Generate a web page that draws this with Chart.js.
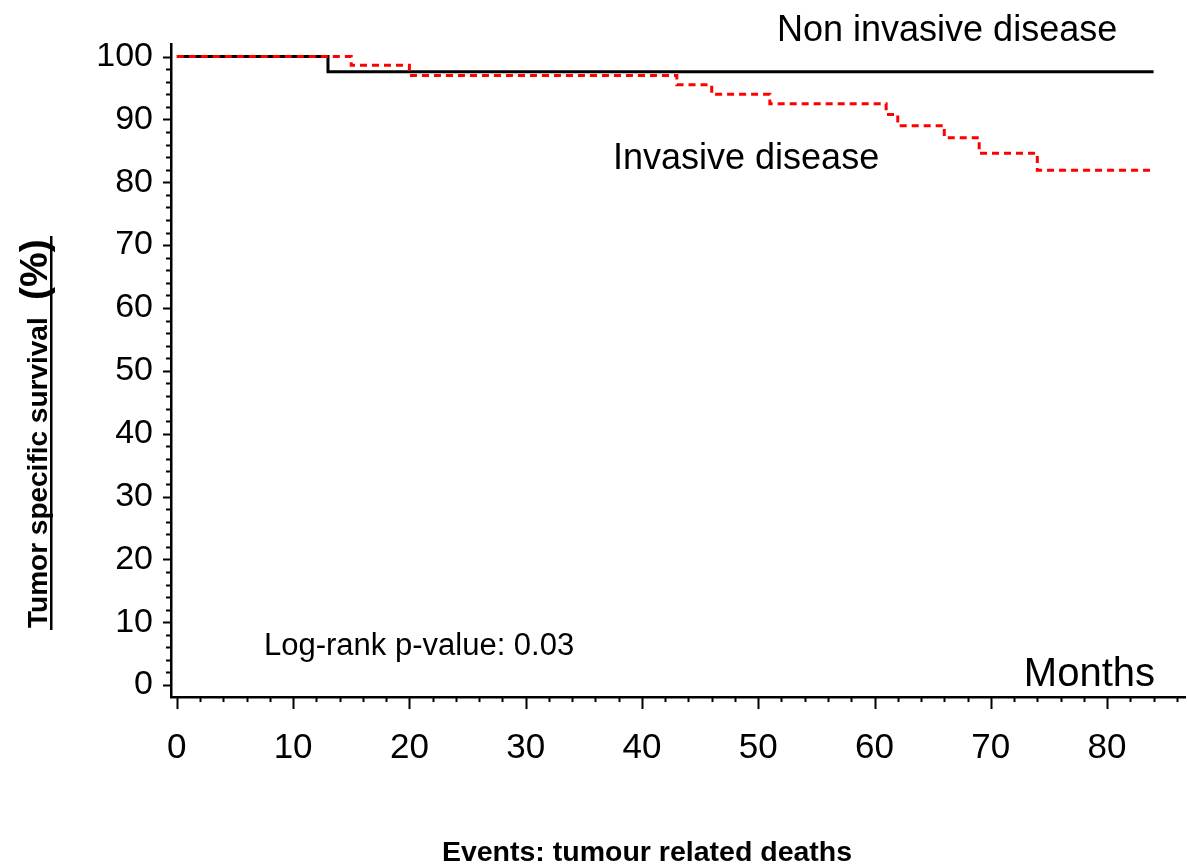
<!DOCTYPE html>
<html lang="en">
<head>
    <meta charset="UTF-8">
    <title>Tumor specific survival</title>
    <script src="https://cdn.jsdelivr.net/npm/chart.js@4.4.1/dist/chart.umd.min.js"></script>
    <style>
        html, body { margin: 0; padding: 0; background: #fff; }
        canvas { display: block; }
    </style>
</head>
<body>
<canvas id="chart" width="1187" height="868"></canvas>
<script>
    // Kaplan-Meier steps
    const monthsInvasive = [0, 15, 20, 43, 46, 51, 61, 62, 66, 69, 74, 84]
    const survivalInvasive = [100, 98.6, 97.0, 95.5, 94.0, 92.5, 90.8, 89.0, 87.1, 84.6, 81.9, 81.9]
    const monthsNonInvasive = [0, 13, 84]
    const survivalNonInvasive = [100, 97.6, 97.6]

    const yTickValues = [0, 10, 20, 30, 40, 50, 60, 70, 80, 90, 100]
    const xTickValues = [0, 10, 20, 30, 40, 50, 60, 70, 80]

    const labelNonInvasive = 'Non invasive disease'
    const labelInvasive = 'Invasive disease'
    const pValueText = 'Log-rank p-value: 0.03'
    const xTitle = 'Months'
    const yTitle = 'Tumor specific survival'
    const yUnit = '(%)'
    const footerText = 'Events: tumour related deaths'

    const FONT = '"Liberation Sans", Arial, Helvetica, sans-serif'

    function points(xs, ys) {
        return xs.map((x, i) => ({x: x, y: ys[i]}))
    }

    // minor + major tick marks, drawn outward from the axes
    const tickMarks = {
        id: 'tickMarks',
        afterDraw(chart) {
            const ctx = chart.ctx
            const xs = chart.scales.x
            const ys = chart.scales.y
            const area = chart.chartArea
            ctx.save()
            ctx.strokeStyle = '#000'
            ctx.lineWidth = 2
            ctx.beginPath()
            for (let v = 0; v <= 100; v += 2) {
                const y = Math.round(ys.getPixelForValue(v)) + 0.5
                const len = v % 10 === 0 ? 8 : 5
                ctx.moveTo(area.left - len, y)
                ctx.lineTo(area.left, y)
            }
            for (let v = 0; v <= 86; v += 2) {
                const x = Math.round(xs.getPixelForValue(v)) + 0.5
                const len = v % 10 === 0 ? 12 : 5
                ctx.moveTo(x, area.bottom)
                ctx.lineTo(x, area.bottom + len)
            }
            ctx.stroke()
            ctx.restore()
        }
    }

    const texts = {
        id: 'texts',
        afterDraw(chart) {
            const ctx = chart.ctx
            ctx.save()
            ctx.fillStyle = '#000'
            ctx.textBaseline = 'alphabetic'

            ctx.font = '36px ' + FONT
            ctx.textAlign = 'left'
            ctx.fillText(labelNonInvasive, 777, 41)
            ctx.fillText(labelInvasive, 613, 169)

            ctx.font = '31px ' + FONT
            ctx.fillText(pValueText, 264, 655)

            ctx.font = '40px ' + FONT
            ctx.textAlign = 'right'
            ctx.fillText(xTitle, 1155, 686)

            ctx.font = 'bold 28.5px ' + FONT
            ctx.textAlign = 'center'
            ctx.fillText(footerText, 647, 861)

            // rotated y title with underline
            ctx.translate(47, 0)
            ctx.rotate(-Math.PI / 2)
            ctx.textAlign = 'left'
            ctx.font = 'bold 28px ' + FONT
            ctx.fillText(yTitle, -628, 0)
            ctx.font = 'bold 39px ' + FONT
            ctx.fillText(yUnit, -300, 0)
            ctx.fillRect(-630, 3, 394, 2.5)
            ctx.restore()
        }
    }

    const ctx = document.getElementById('chart').getContext('2d')
    const chart = new Chart(ctx, {
        type: 'line',
        data: {
            datasets: [
                {
                    label: labelInvasive,
                    data: points(monthsInvasive, survivalInvasive),
                    borderColor: '#ff0000',
                    borderWidth: 3,
                    borderDash: [7, 5],
                    stepped: 'before',
                    pointRadius: 0,
                    fill: false,
                },
                {
                    label: labelNonInvasive,
                    data: points(monthsNonInvasive, survivalNonInvasive),
                    borderColor: '#000000',
                    borderWidth: 3,
                    stepped: 'before',
                    pointRadius: 0,
                    fill: false,
                },
            ],
        },
        options: {
            responsive: false,
            animation: false,
            devicePixelRatio: 1,
            layout: {
                padding: {top: 44, right: 2, left: 0, bottom: 0},
            },
            plugins: {
                legend: {display: false},
                tooltip: {enabled: false},
            },
            scales: {
                x: {
                    type: 'linear',
                    min: -0.5,
                    max: 86.7,
                    afterBuildTicks: s => { s.ticks = xTickValues.map(v => ({value: v})) },
                    afterFit: s => { s.height = 171 },
                    grid: {display: false, drawTicks: false},
                    border: {display: true, color: '#000', width: 2.5},
                    ticks: {
                        color: '#000',
                        font: {family: FONT, size: 35},
                        padding: 30,
                        maxRotation: 0,
                        autoSkip: false,
                    },
                },
                y: {
                    type: 'linear',
                    min: -1.9,
                    max: 102,
                    afterBuildTicks: s => { s.ticks = yTickValues.map(v => ({value: v})) },
                    afterFit: s => { s.width = 171 },
                    grid: {display: false, drawTicks: false},
                    border: {display: true, color: '#000', width: 2.5},
                    ticks: {
                        color: '#000',
                        font: {family: FONT, size: 34},
                        padding: 18,
                        autoSkip: false,
                    },
                },
            },
        },
        plugins: [tickMarks, texts],
    })
</script>
</body>
</html>
